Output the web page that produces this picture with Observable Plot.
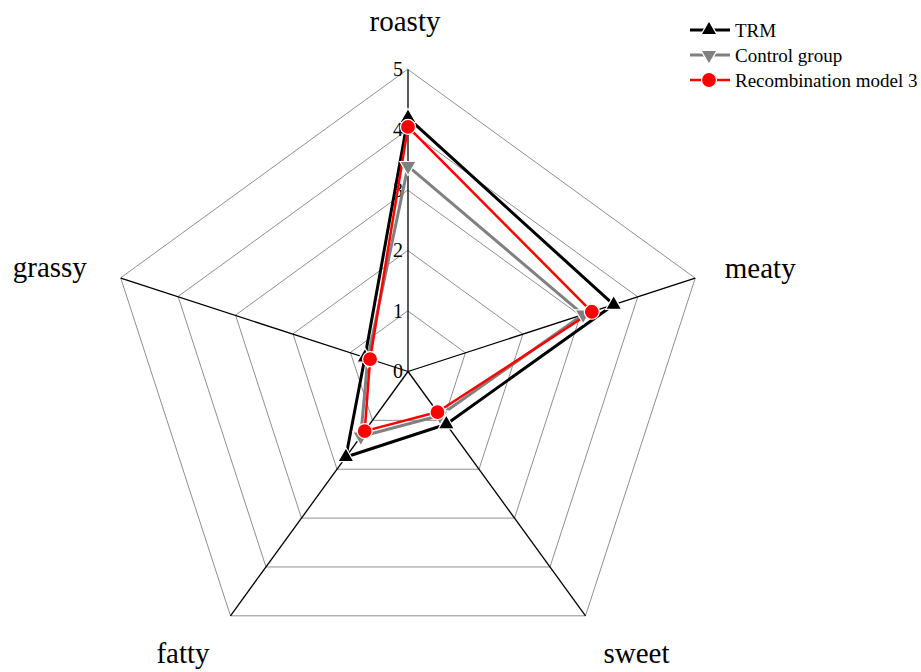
<!DOCTYPE html>
<html>
<head>
<meta charset="utf-8">
<script src="https://cdn.jsdelivr.net/npm/d3@7"></script>
<script src="https://cdn.jsdelivr.net/npm/@observablehq/plot@0.6"></script>
<style>
  html, body { margin: 0; padding: 0; background: #fff; }
  #chart { position: relative; width: 921px; height: 672px; font-family: "Liberation Serif", "Times New Roman", serif; }
  #legend { position: absolute; left: 688px; top: 0; }
</style>
</head>
<body>
<div id="chart"></div>
<script>
// Sensory attributes (clockwise from the top) and panel scores per sample
const attributes = ["roasty", "meaty", "sweet", "fatty", "grassy"];
const trm = [4.2, 3.58, 1.08, 1.75, 0.75];
const controlGroup = [3.4, 3.05, 0.9, 1.33, 0.7];
const model3 = [4.05, 3.2, 0.83, 1.22, 0.66];
const gridTicks = [0, 1, 2, 3, 4, 5];
const seriesNames = ["TRM", "Control group", "Recombination model 3"];

const maxValue = 5;
const unit = 60.4;              // pixels per score unit
const cx = 407.5, cy = 371;     // centre of the web

// polar -> cartesian in score units
const angle = i => Math.PI / 2 - i * 2 * Math.PI / attributes.length;
const px = (i, v) => v * Math.cos(angle(i));
const py = (i, v) => v * Math.sin(angle(i));

// pixel offsets of each attribute name from the tip of its spoke
const labelOffsets = [[-3, -48], [65, -9], [51, 38], [-47.5, 38], [-71, -10]];

// triangle pointing down, same geometry as d3.symbolTriangle flipped
const sqrt3 = Math.sqrt(3);
const triangleDown = {
  draw(context, size) {
    const y = -Math.sqrt(size / (sqrt3 * 3));
    context.moveTo(0, -2 * y);
    context.lineTo(-sqrt3 * y, y);
    context.lineTo(sqrt3 * y, y);
    context.closePath();
  }
};

const styles = {
  "TRM": {color: "#000000", width: 3, symbol: "triangle", r: 6},
  "Control group": {color: "#808080", width: 3, symbol: triangleDown, r: 6},
  "Recombination model 3": {color: "#ff0000", width: 2.5, symbol: "circle", r: 7.5}
};

const seriesValues = {"TRM": trm, "Control group": controlGroup, "Recombination model 3": model3};
const points = seriesNames.flatMap(name =>
  seriesValues[name].map((v, i) => ({series: name, attribute: attributes[i], value: v, x: px(i, v), y: py(i, v)}))
);

const rings = gridTicks.filter(t => t > 0).flatMap(t =>
  attributes.map((a, i) => ({t, x: px(i, t), y: py(i, t)}))
);

// draw order: grey underneath, then black, red on top
const drawOrder = ["Control group", "TRM", "Recombination model 3"];

const marks = [
  Plot.line(rings, {x: "x", y: "y", z: "t", curve: "linear-closed", stroke: "#8f8f8f", strokeWidth: 1}),
  Plot.link(attributes, {
    x1: () => 0, y1: () => 0,
    x2: (d, i) => px(i, maxValue), y2: (d, i) => py(i, maxValue),
    stroke: "#000", strokeWidth: 1.3
  }),
  Plot.text(gridTicks, {
    x: () => 0, y: d => d, text: d => String(d),
    textAnchor: "end", dx: -5, fontSize: 20, fill: "#000"
  }),
  Plot.text(attributes, {
    x: (d, i) => px(i, maxValue) + labelOffsets[i][0] / unit,
    y: (d, i) => py(i, maxValue) - labelOffsets[i][1] / unit,
    text: d => d, textAnchor: "middle", fontSize: 29, fill: "#000"
  })
];

for (const name of drawOrder) {
  const s = styles[name];
  marks.push(Plot.line(points.filter(d => d.series === name), {
    x: "x", y: "y", curve: "linear-closed", stroke: s.color, strokeWidth: s.width, strokeLinejoin: "miter"
  }));
}
for (const name of drawOrder) {
  const s = styles[name];
  marks.push(Plot.dot(points.filter(d => d.series === name), {
    x: "x", y: "y", symbol: s.symbol, r: s.r, fill: s.color, stroke: "#fff", strokeWidth: 1.2
  }));
}

const chart = Plot.plot({
  width: 921,
  height: 672,
  margin: 0,
  style: {background: "#fff", fontFamily: "'Liberation Serif', 'Times New Roman', serif", overflow: "visible"},
  x: {domain: [-maxValue, maxValue], range: [cx - maxValue * unit, cx + maxValue * unit], axis: null},
  y: {domain: [-maxValue, maxValue], range: [cy + maxValue * unit, cy - maxValue * unit], axis: null},
  marks
});

const container = document.getElementById("chart");
container.appendChild(chart);

// legend, top right
const legend = d3.create("svg")
  .attr("id", "legend")
  .attr("width", 233)
  .attr("height", 100)
  .style("font-family", "'Liberation Serif', 'Times New Roman', serif");

seriesNames.forEach((name, k) => {
  const s = styles[name];
  const y = 30 + k * 25;
  const g = legend.append("g").attr("transform", `translate(0,${y})`);
  g.append("line").attr("x1", 2).attr("x2", 42).attr("y1", 0).attr("y2", 0)
    .attr("stroke", s.color).attr("stroke-width", s.width);
  const symbolType = s.symbol === "triangle" ? d3.symbolTriangle : s.symbol === "circle" ? d3.symbolCircle : s.symbol;
  g.append("path")
    .attr("transform", "translate(21,0)")
    .attr("d", d3.symbol(symbolType, Math.PI * s.r * s.r)())
    .attr("fill", s.color).attr("stroke", "#fff").attr("stroke-width", 1.2);
  g.append("text").attr("x", 47).attr("y", 6.5)
    .attr("font-size", 19).attr("fill", "#000").text(name);
});

container.appendChild(legend.node());
</script>
</body>
</html>
